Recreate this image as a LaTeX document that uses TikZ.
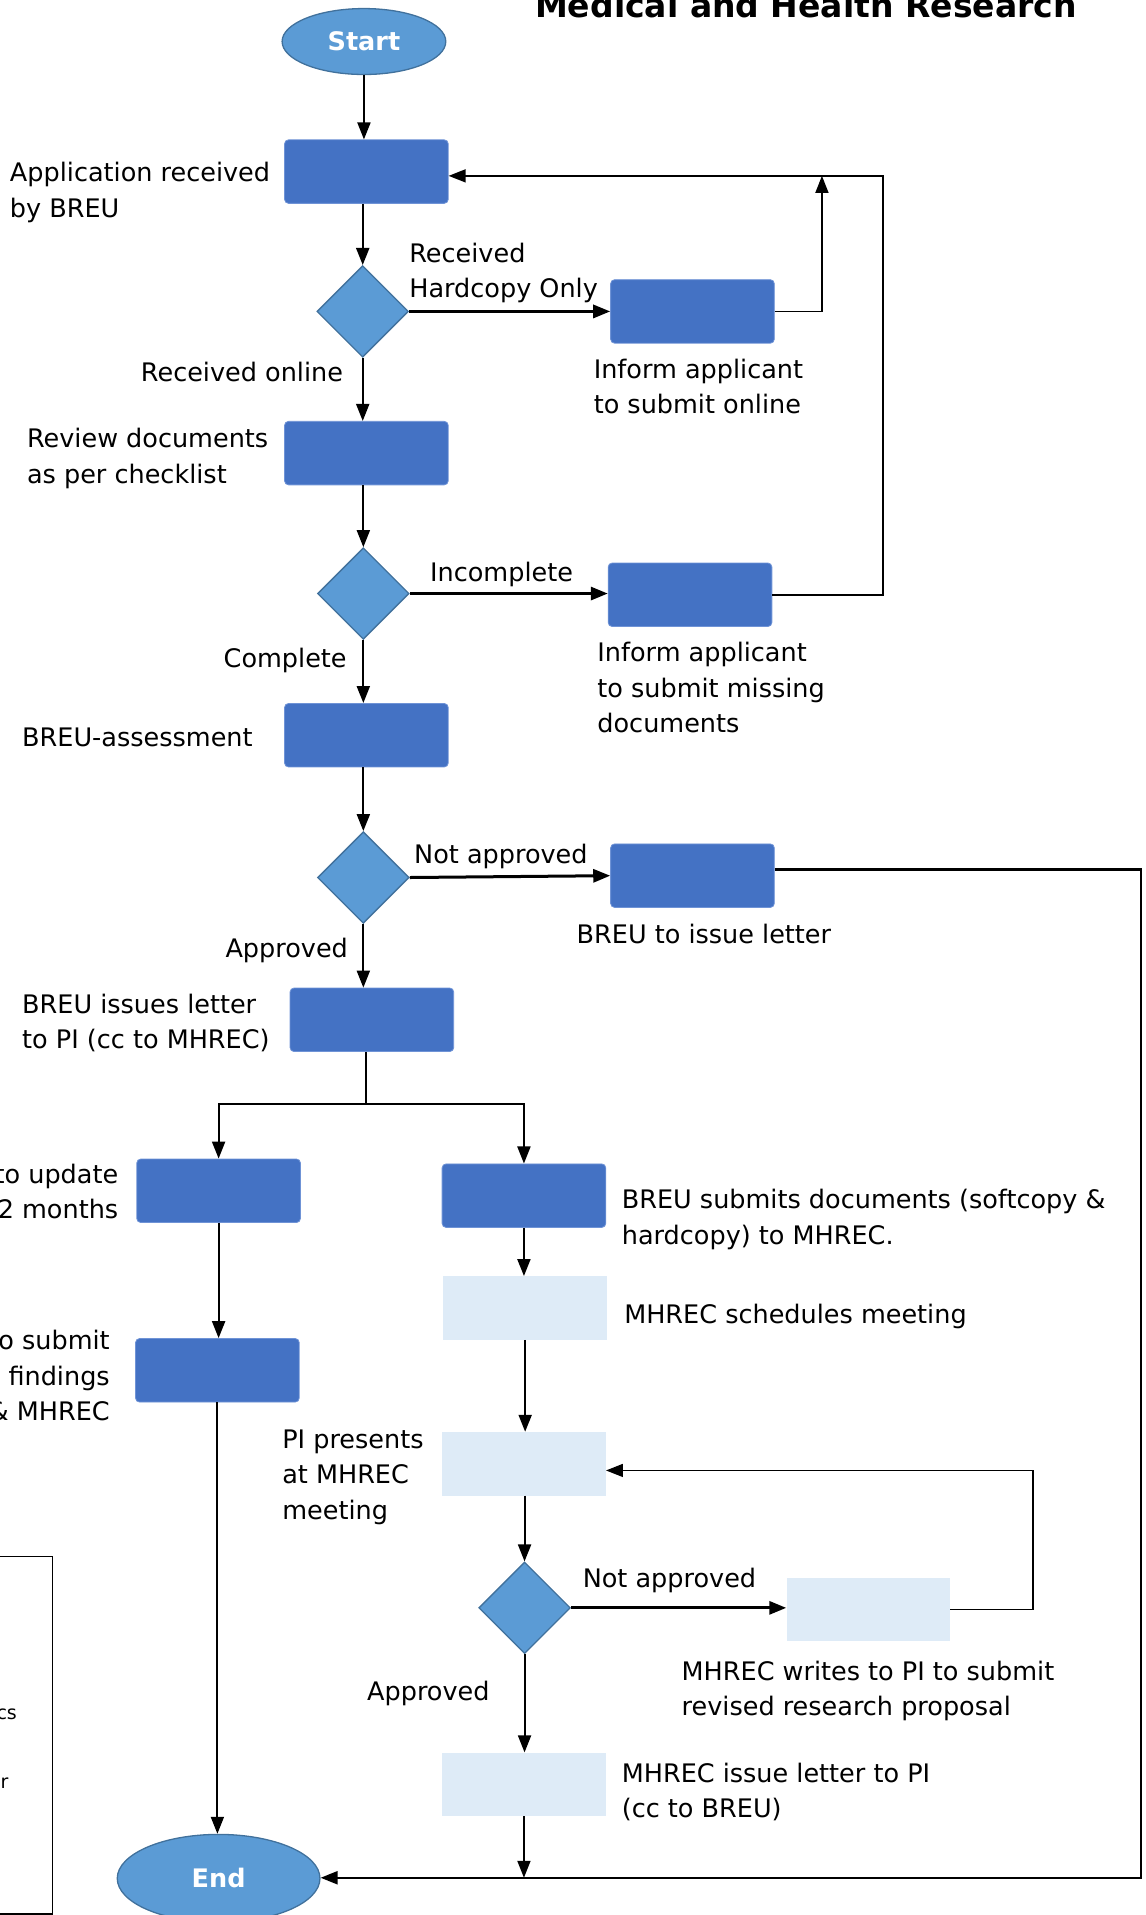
\documentclass[tikz,border=0pt]{standalone}
\usepackage{fontspec}
\setmainfont{DejaVu Sans}
\usetikzlibrary{arrows.meta,shapes.geometric,calc}
\definecolor{boxdark}{HTML}{4472C4}
\definecolor{boxdarkedge}{HTML}{6F93D6}
\definecolor{boxlight}{HTML}{DEEBF7}
\definecolor{decfill}{HTML}{5B9BD5}
\definecolor{decedge}{HTML}{41719C}
\begin{document}
\begin{tikzpicture}[x=1.22068pt,y=-1.22068pt,
  every node/.style={font=\fontsize{25.5}{35.4}\selectfont, inner sep=0pt},
  darkbox/.style={rectangle, rounded corners=4pt, fill=boxdark, draw=boxdarkedge, line width=0.8pt, minimum width=163.6pt, minimum height=63.5pt},
  lightbox/.style={rectangle, fill=boxlight, minimum width=163.6pt, minimum height=63.5pt},
  decision/.style={diamond, fill=decfill, draw=decedge, line width=1.3pt, minimum width=91.5pt, minimum height=91.5pt, inner sep=0pt},
  terminal/.style={ellipse, fill=decfill, draw=decedge, line width=1.3pt, text=white, font=\fontsize{25.5}{30}\selectfont\bfseries},
  tip/.style={-{Triangle[length=17pt,width=13pt]}},
  flow/.style={line width=2pt, tip},
  branch/.style={line width=3pt, tip},
  backline/.style={line width=1.5pt},
  lbl/.style={align=left, anchor=west, yshift=-2.4pt},
  rlbl/.style={align=right, anchor=east, yshift=-2.4pt},
]
\useasboundingbox (0,0) rectangle (938,1568);
\clip (0,0) rectangle (938,1568);

% title
\node[font=\fontsize{33}{40}\selectfont\bfseries, anchor=base west] (title) at (438,14.5) {Medical and Health Research};

% shapes
\node[terminal, minimum width=163.6pt, minimum height=65.9pt] (start) at (298,34) {Start};
\node[darkbox] (b1) at (300,140.5) {};
\node[decision] (d1) at (297,255) {};
\node[darkbox] (b2) at (567,255) {};
\node[darkbox] (b3) at (300,371) {};
\node[decision] (d2) at (297.5,486) {};
\node[darkbox] (b4) at (565,487) {};
\node[darkbox] (b5) at (300,602) {};
\node[decision] (d3) at (297.5,718.5) {};
\node[darkbox] (b6) at (567,717) {};
\node[darkbox] (b7) at (304.5,835) {};
\node[darkbox] (b8) at (179,975) {};
\node[darkbox] (b9) at (178,1122) {};
\node[darkbox] (b10) at (429,979) {};
\node[lightbox] (b11) at (430,1071) {};
\node[lightbox] (b12) at (429,1198.5) {};
\node[decision] (d4) at (429.5,1316.5) {};
\node[lightbox] (b13) at (711,1318) {};
\node[lightbox] (b14) at (429,1461) {};
\node[terminal, minimum width=202.6pt, minimum height=87.9pt] (end) at (179,1538) {End};

% helper coordinates
\coordinate (j1) at (673,144);
\coordinate (r1) at (723,144);
\coordinate (c1) at (934,712);
\coordinate (c2) at (934,1537.5);
\coordinate (s1) at (299.5,904);
\coordinate (c3) at (846,1204);

% connectors
\draw[flow] (start.south) -- (start.south |- b1.north);
\draw[flow] (d1.north |- b1.south) -- (d1.north);
\draw[branch] (d1.east) -- (b2.west);
\draw[backline, tip] (b2.east) -| (j1);
\draw[backline, tip] (b4.east) -| (r1) -- (r1 -| b1.east);
\draw[flow] (d1.south) -- (d1.south |- b3.north);
\draw[flow] (d2.north |- b3.south) -- (d2.north);
\draw[branch] (d2.east) -- (d2.east -| b4.west);
\draw[flow] (d2.south) -- (d2.south |- b5.north);
\draw[flow] (d3.north |- b5.south) -- (d3.north);
\draw[branch] (d3.east) -- (b6.west);
\draw[flow] (d3.south) -- (d3.south |- b7.north);
\draw[line width=2.2pt, tip] (b6.east |- c1) -- (c1) -- (c2) -- (c2 -| end.east);
\draw[backline] (s1 |- b7.south) -- (s1);
\draw[flow] (s1) -| (b8.north);
\draw[flow] (s1) -| (b10.north);
\draw[flow] (b8.south) -- (b8.south |- b9.north);
\draw[flow] (b9.south) -- (b9.south |- end.north);
\draw[flow] (b10.south) -- (b10.south |- b11.north);
\draw[flow] (b11.south) -- (b11.south |- b12.north);
\draw[flow] (d4.north |- b12.south) -- (d4.north);
\draw[branch] (d4.east) -- (d4.east -| b13.west);
\draw[backline, tip] (b13.east) -| (c3) -- (c3 -| b12.east);
\draw[flow] (d4.south) -- (d4.south |- b14.north);
\draw[flow] (b14.south) -- (b14.south |- c2);

% labels
\node[lbl] (l1) at (8,155.5) {Application received\\by BREU};
\node[lbl] (l2) at (335,221.5) {Received\\Hardcopy Only};
\node[lbl] (l3) at (486,314.5) {Inform applicant\\to submit online};
\node[rlbl] (l4) at (281,303) {Received online};
\node[lbl] (l5) at (22,373.5) {Review documents\\as per checklist};
\node[lbl] (l6) at (352,468) {Incomplete};
\node[lbl] (l7) at (489,561) {Inform applicant\\to submit missing\\documents};
\node[rlbl] (l8) at (284,539) {Complete};
\node[lbl] (l9) at (18,602) {BREU-assessment};
\node[lbl] (l10) at (339,699) {Not approved};
\node[lbl] (l11) at (472,763) {BREU to issue letter};
\node[rlbl] (l12) at (285,776) {Approved};
\node[lbl] (l13) at (18,835.5) {BREU issues letter\\to PI (cc to MHREC)};
\node[rlbl] (l14) at (97,973.5) {to update\\2 months};
\node[lbl] (l15) at (509,996.5) {BREU submits documents (softcopy \&\\hardcopy) to MHREC.};
\node[rlbl] (l16) at (90,1124.5) {to submit\\findings\\\& MHREC};
\node[lbl] (l17) at (511,1076) {MHREC schedules meeting};
\node[lbl] (l18) at (231,1207.5) {PI presents\\at MHREC\\meeting};
\node[lbl] (l19) at (477,1292) {Not approved};
\node[lbl] (l20) at (558,1382.5) {MHREC writes to PI to submit\\revised research proposal};
\node[rlbl] (l21) at (401,1385) {Approved};
\node[lbl] (l22) at (509,1465.5) {MHREC issue letter to PI\\(cc to BREU)};

% partial legend box at lower left
\draw[line width=1.8pt] (-10,1274.5) -- (43,1274.5) -- (43,1567) -- (-10,1567);
\node[rlbl, font=\fontsize{19}{22}\selectfont] (lg1) at (14,1402) {cs};
\node[rlbl, font=\fontsize{19}{22}\selectfont] (lg2) at (7,1458) {or};
\end{tikzpicture}
\end{document}
